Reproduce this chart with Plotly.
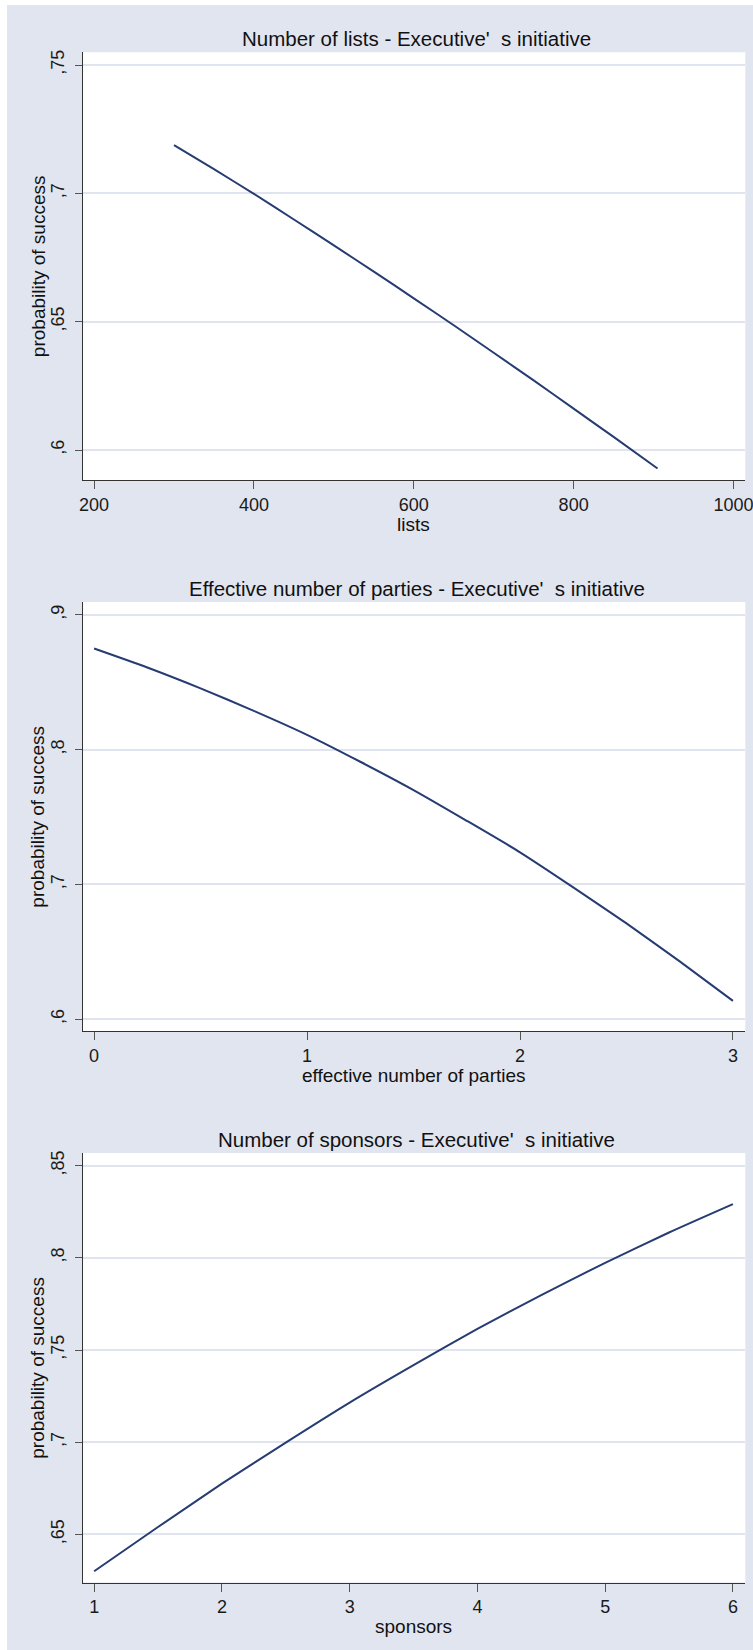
import plotly.graph_objects as go

# ---------------- data ----------------
lists_x = [300, 350, 400, 450, 500, 550, 600, 650, 700, 750, 800, 850, 905]
lists_p = [0.7188, 0.7094, 0.6998, 0.6898, 0.6797, 0.6695, 0.6591, 0.6486, 0.6379, 0.6271, 0.6161, 0.6051, 0.5928]

parties_x = [0, 0.25, 0.5, 0.75, 1, 1.25, 1.5, 1.75, 2, 2.25, 2.5, 2.75, 3]
parties_p = [0.8751, 0.8610, 0.8455, 0.8288, 0.8110, 0.7910, 0.7700, 0.7472, 0.7238, 0.6978, 0.6710, 0.6428, 0.6135]

sponsors_x = [1, 1.5, 2, 2.5, 3, 3.5, 4, 4.5, 5, 5.5, 6]
sponsors_p = [0.6300, 0.6540, 0.6775, 0.6998, 0.7215, 0.7418, 0.7614, 0.7798, 0.7973, 0.8137, 0.8291]

titles = ["Number of lists - Executive'\u00a0 s initiative",
          "Effective number of parties - Executive'\u00a0 s initiative",
          "Number of sponsors - Executive'\u00a0 s initiative"]
xtitles = ["lists", "effective number of parties", "sponsors"]
ytitle = "probability of success"

x_ticks = [[200, 400, 600, 800, 1000], [0, 1, 2, 3], [1, 2, 3, 4, 5, 6]]
y_ticks = [[0.6, 0.65, 0.7, 0.75], [0.6, 0.7, 0.8, 0.9], [0.65, 0.7, 0.75, 0.8, 0.85]]
y_ticktext = [[",6", ",65", ",7", ",75"], [",6", ",7", ",8", ",9"], [",65", ",7", ",75", ",8", ",85"]]
x_ranges = [[185.5, 1014.8], [-0.0545, 3.058], [0.909, 6.097]]
y_ranges = [[0.58831, 0.75495], [0.59094, 0.90957], [0.62392, 0.85683]]

# ---------------- style / layout ----------------
W, H = 753, 1650
BG = "#e1e5ef"
GRID = "#dfe4ee"
LINE = "#263c72"
REG = "Liberation Sans, Arial, Helvetica, sans-serif"

plot_left, plot_right = 82.5, 745.3
panel_tops = [52.3, 602.0, 1153.0]
panel_bottoms = [480.0, 1031.3, 1582.5]


def px_x(v):
    return v / W


def px_y(v):
    return 1 - v / H


fig = go.Figure()
series = [(lists_x, lists_p), (parties_x, parties_p), (sponsors_x, sponsors_p)]
for i, (xs, ys) in enumerate(series):
    sfx = "" if i == 0 else str(i + 1)
    fig.add_trace(go.Scatter(x=xs, y=ys, mode="lines", xaxis="x" + sfx, yaxis="y" + sfx,
                             line=dict(color=LINE, width=2, shape="spline", smoothing=0.6),
                             showlegend=False, hoverinfo="x+y"))

layout = dict(width=W, height=H, margin=dict(l=0, r=0, t=0, b=0),
              paper_bgcolor="white", plot_bgcolor="rgba(0,0,0,0)", showlegend=False)

shapes = [dict(type="rect", xref="paper", yref="paper", x0=px_x(7), x1=1, y0=0, y1=px_y(5),
               fillcolor=BG, line=dict(width=0), layer="below")]
annotations = []
for i in range(3):
    sfx = "" if i == 0 else str(i + 1)
    top, bot = panel_tops[i], panel_bottoms[i]
    layout["xaxis" + sfx] = dict(
        domain=[px_x(plot_left), px_x(plot_right)], anchor="y" + sfx, range=x_ranges[i],
        tickvals=x_ticks[i], ticks="outside", ticklen=8, tickwidth=1, tickcolor="#555555",
        showline=True, linecolor="#333333", linewidth=1, showgrid=False, zeroline=False,
        tickfont=dict(family=REG, size=18, color="#1a1a1a"), ticklabelstandoff=0,
        ticklabeloverflow="allow", automargin=False)
    layout["yaxis" + sfx] = dict(
        domain=[px_y(bot), px_y(top)], anchor="x" + sfx, range=y_ranges[i],
        tickvals=y_ticks[i], ticktext=y_ticktext[i], tickangle=-90,
        ticks="outside", ticklen=7, tickwidth=1, tickcolor="#555555",
        showline=True, linecolor="#333333", linewidth=1, showgrid=True, gridcolor=GRID,
        gridwidth=1.5, zeroline=False, tickfont=dict(family=REG, size=18, color="#1a1a1a"),
        ticklabelstandoff=3, ticklabeloverflow="allow", automargin=False)
    shapes.append(dict(type="rect", xref="x" + sfx + " domain", yref="y" + sfx + " domain",
                       x0=0, x1=1, y0=0, y1=1, fillcolor="white", line=dict(width=0), layer="below"))
    annotations.append(dict(text=titles[i], xref="paper", yref="paper", x=px_x(417),
                            y=px_y(top - 13.5), xanchor="center", yanchor="middle", showarrow=False,
                            font=dict(family=REG, size=20.5, color="#111111")))
    annotations.append(dict(text=xtitles[i], xref="paper", yref="paper",
                            x=px_x((plot_left + plot_right) / 2), y=px_y(bot + 44),
                            xanchor="center", yanchor="middle", showarrow=False,
                            font=dict(family=REG, size=19, color="#111111")))
    annotations.append(dict(text=ytitle, xref="paper", yref="paper", x=px_x(38),
                            y=px_y((top + bot) / 2), xanchor="center", yanchor="middle",
                            textangle=-90, showarrow=False,
                            font=dict(family=REG, size=19, color="#111111")))

layout["shapes"] = shapes
layout["annotations"] = annotations
fig.update_layout(**layout)
fig.write_html("out.html", config={"displayModeBar": False},
               post_script="document.body.style.margin='0px';document.body.style.overflow='hidden';")
